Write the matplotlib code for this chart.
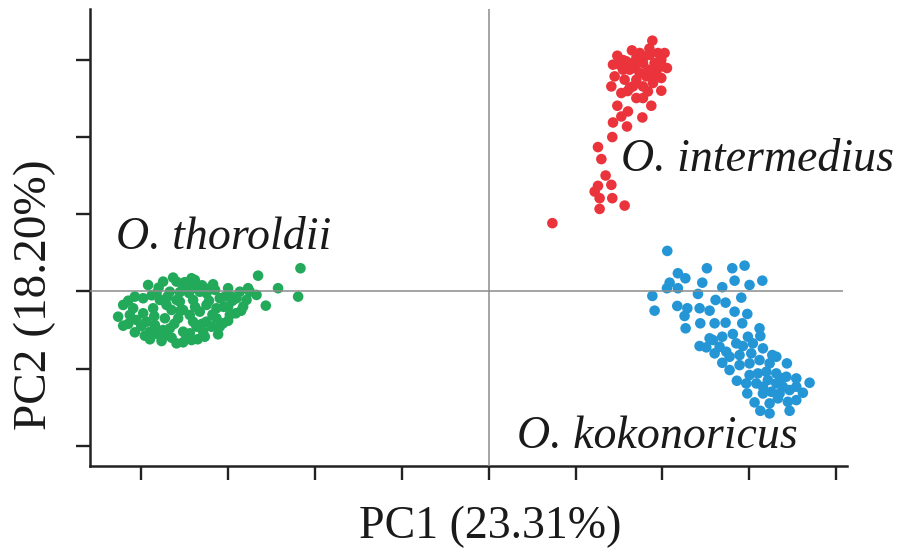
import matplotlib
matplotlib.use("Agg")
import matplotlib.pyplot as plt
import numpy as np

# ---- data (PC scores) ----
int_pc1 = [1.884, 1.481, 1.649, 1.738, 1.853, 2.025, 1.987, 1.431, 1.584, 1.661,
           1.776, 1.910, 2.052, 1.450, 1.565, 1.623, 1.738, 1.815, 1.930, 1.987,
           1.412, 1.527, 1.661, 1.776, 1.833, 1.987, 1.700, 1.872, 1.481, 1.603,
           1.527, 1.431, 1.592, 1.769, 1.423, 1.258, 1.297, 1.346, 1.412, 1.258,
           1.220, 1.277, 1.423, 1.565, 1.277, 0.733,
           1.700, 1.833, 1.700, 1.891, 1.546, 1.776, 1.948, 1.507, 1.795, 1.623,
           1.680, 1.900, 1.600, 1.850, 2.000, 1.550]
int_pc2 = [3.253, 3.058, 3.127, 3.093, 3.071, 3.093, 3.006, 2.942, 2.985, 2.963,
           2.963, 2.963, 2.898, 2.790, 2.747, 2.877, 2.834, 2.790, 2.855, 2.769,
           2.660, 2.574, 2.660, 2.660, 2.595, 2.604, 2.509, 2.409, 2.409, 2.335,
           2.270, 2.192, 2.140, 2.257, 2.003, 1.873, 1.717, 1.504, 1.383, 1.370,
           1.296, 1.210, 1.210, 1.114, 1.071, 0.886,
           3.028, 2.877, 2.747, 2.704, 2.877, 2.509, 3.093, 2.942, 3.049, 2.639,
           2.900, 2.800, 2.600, 3.150, 2.920, 3.000]

kok_pc1 = [2.056, 2.178, 2.264, 2.512, 2.804, 2.946, 2.083, 2.052, 2.178, 2.459,
           2.689, 2.831, 3.003, 3.150, 1.884, 1.910, 2.171, 2.287, 2.255, 2.409,
           2.428, 2.543, 2.612, 2.727, 2.908, 2.831, 2.977, 2.267, 2.436, 2.601,
           2.727, 2.919, 3.118, 2.543, 2.428, 2.581, 2.689, 2.811, 2.984, 3.127,
           2.505, 2.601, 2.735, 2.850, 2.926, 3.023, 3.157, 3.265, 2.689, 2.773,
           2.888, 3.003, 3.118, 3.234, 3.433, 2.857, 3.003, 3.099, 3.196, 3.311,
           3.426, 3.541, 3.694, 2.977, 3.081, 3.157, 3.253, 3.349, 3.464, 3.617,
           3.061, 3.234, 3.329, 3.444, 3.541, 3.127, 3.234, 3.464, 2.773, 2.888,
           3.157, 3.311, 3.387, 3.541, 2.658, 3.041, 3.311, 2.965, 3.214, 3.368]
kok_pc2 = [0.526, 0.236, 0.171, 0.301, 0.301, 0.335, 0.114, 0.042, 0.042, 0.114,
           0.055, 0.140, 0.084, 0.140, -0.058, -0.249, -0.188, -0.218, -0.318, -0.032,
           -0.218, -0.249, -0.110, -0.145, -0.080, -0.262, -0.292, -0.478, -0.413, -0.413,
           -0.405, -0.413, -0.478, -0.608, -0.708, -0.630, -0.587, -0.552, -0.587, -0.578,
           -0.725, -0.803, -0.782, -0.673, -0.708, -0.803, -0.738, -0.825, -0.925, -1.019,
           -0.955, -0.933, -0.890, -0.933, -0.933, -1.158, -1.084, -1.063, -1.041, -1.063,
           -1.106, -1.128, -1.184, -1.323, -1.193, -1.323, -1.301, -1.323, -1.279, -1.314,
           -1.439, -1.452, -1.387, -1.431, -1.409, -1.548, -1.582, -1.548, -0.847, -0.825,
           -1.236, -1.193, -1.236, -1.236, -0.717, -0.673, -0.847, -1.193, -1.149, -1.128]

tho_pc1 = [-2.167, -2.655, -2.425, -2.194, -2.566, -2.673, -2.770, -3.000, -3.173, -3.421,
           -3.633, -3.748, -3.921, -4.074, -4.208, -4.266, -4.208, -4.074, -3.959, -3.806,
           -3.766, -3.594, -3.518, -3.421, -3.268, -3.115, -3.058, -2.911, -2.827, -2.903,
           -3.096, -3.249, -3.364, -3.518, -3.671, -3.824, -3.978, -4.093, -3.978, -3.863,
           -3.709, -3.556, -3.403, -3.249, -3.134, -3.000, -3.134, -3.249, -3.364, -3.518,
           -3.671, -3.843, -3.939, -4.054, -4.131, -3.728, -3.575, -3.441, -3.326, -3.518,
           -3.651, -3.288, -3.441, -3.709, -3.191, -3.326, -3.460, -3.594, -3.038, -2.865,
           -2.788, -2.980, -3.901, -3.556, -3.786, -3.383, -3.211, -2.961, -2.750, -3.594,
           -3.403, -3.096,
           -4.150, -4.000, -3.880, -3.850, -3.750, -3.700, -3.620, -3.550, -3.480, -3.450,
           -3.380, -3.300, -3.220, -3.180, -3.050, -2.950, -3.900, -3.650, -3.350, -4.150,
           -3.800, -3.500, -3.300, -3.150, -2.850, -3.000]
tho_pc2 = [0.301, 0.205, 0.042, -0.067, -0.184, -0.045, 0.042, 0.042, 0.093, 0.171,
           0.180, 0.128, 0.084, -0.067, -0.175, -0.327, -0.444, -0.530, -0.574, -0.556,
           -0.643, -0.673, -0.660, -0.630, -0.587, -0.556, -0.413, -0.283, -0.197, -0.088,
           -0.088, -0.023, 0.042, 0.062, -0.003, -0.023, -0.088, -0.218, -0.283, -0.218,
           -0.175, -0.132, -0.110, -0.175, -0.218, -0.197, -0.348, -0.392, -0.457, -0.522,
           -0.478, -0.435, -0.392, -0.370, -0.305, -0.348, -0.348, -0.305, -0.262, -0.240,
           -0.240, -0.522, -0.543, -0.565, -0.457, -0.003, 0.084, 0.128, -0.067, -0.003,
           -0.110, -0.305, -0.522, -0.010, -0.110, 0.149, 0.042, -0.067, -0.003, -0.110,
           -0.392, -0.457,
           -0.120, -0.450, -0.050, -0.320, -0.500, -0.070, -0.420, -0.250, -0.580, -0.020,
           -0.200, -0.420, -0.120, -0.300, -0.200, -0.120, -0.620, -0.600, -0.620, -0.420,
           0.050, 0.120, 0.080, 0.020, -0.250, -0.380]

species = ["O. intermedius", "O. kokonoricus", "O. thoroldii"]
colors = ["#EB333C", "#2496D6", "#22AA5A"]
x_label = "PC1 (23.31%)"
y_label = "PC2 (18.20%)"
x_ticks = [-4, -3, -2, -1, 0, 1, 2, 3, 4]
y_ticks = [-2, -1, 0, 1, 2, 3]

plt.rcParams['font.family'] = ['Liberation Serif', 'DejaVu Serif']

fig = plt.figure(figsize=(9.09, 5.54), dpi=100)
ax = fig.add_axes([0.0990, 0.1594, 0.9318 - 0.0990, 0.9832 - 0.1594])

groups = [(int_pc1, int_pc2), (kok_pc1, kok_pc2), (tho_pc1, tho_pc2)]
for (xs, ys), c in zip(groups, colors):
    ax.scatter(xs, ys, s=58, color=c, edgecolors='none', zorder=2)

ax.plot([-4.59, 4.08], [0, 0], color='#8c8c8c', lw=1.1, zorder=3, solid_capstyle='butt')
ax.axvline(0, color='#8c8c8c', lw=1.1, zorder=3)

ax.set_xlim(-4.59, 4.125)
ax.set_ylim(-2.26, 3.66)
ax.set_xticks(x_ticks)
ax.set_yticks(y_ticks)
ax.set_xticklabels([])
ax.set_yticklabels([])
ax.tick_params(direction='out', length=10, width=1.7, color='#222222')
for s in ['top', 'right']:
    ax.spines[s].set_visible(False)
for s in ['left', 'bottom']:
    ax.spines[s].set_linewidth(1.8)
    ax.spines[s].set_color('#222222')

ax.text(1.519, 1.565, species[0], fontsize=33, style='italic', ha='left', va='baseline', color='#1a1a1a')
ax.text(0.322, -2.029, species[1], fontsize=33, style='italic', ha='left', va='baseline', color='#1a1a1a')
ax.text(-4.292, 0.552, species[2], fontsize=33, style='italic', ha='left', va='baseline', color='#1a1a1a')

fig.text(490 / 909, (554 - 538) / 554, x_label, fontsize=33, ha='center', va='baseline', color='#1a1a1a')
fig.text(35 / 909, (554 - 295) / 554, y_label, fontsize=34, rotation=90, ha='center', va='center', color='#1a1a1a')

fig.savefig("out.png", dpi=100)
